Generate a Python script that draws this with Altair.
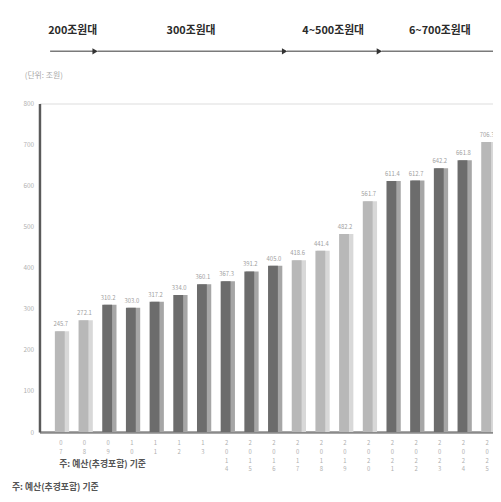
import altair as alt
import pandas as pd

FONT = "Noto Sans CJK KR"

# ---- data ----
years = ["07", "08", "09", "10", "11", "12", "13",
         "2014", "2015", "2016", "2017", "2018", "2019", "2020",
         "2021", "2022", "2023", "2024", "2025"]
values = [245.7, 272.1, 310.2, 303.0, 317.2, 334.0, 360.1, 367.3, 391.2, 405.0,
          418.6, 441.4, 482.2, 561.7, 611.4, 612.7, 642.2, 661.8, 706.3]
tones = ["light", "light", "dark", "dark", "dark", "dark", "dark", "dark", "dark", "dark",
         "light", "light", "light", "light", "dark", "dark", "dark", "dark", "light"]

group_names = ["200조원대", "300조원대", "4~500조원대", "6~700조원대"]
group_first = [0, 2, 10, 14]
group_last = [1, 9, 13, 18]

unit_text = "(단위: 조원)"
note_text = "주: 예산(추경포함) 기준"

df = pd.DataFrame({"idx": list(range(len(years))), "year": years,
                   "value": values, "tone": tones})
groups = pd.DataFrame({"name": group_names, "first": group_first, "last": group_last})

xscale = alt.Scale(domain=[-0.691, 18.04], nice=False, zero=False)
yscale = alt.Scale(domain=[0, 800], nice=False)

x_enc = alt.X("idx:Q", scale=xscale, title=None,
              axis=alt.Axis(values=list(range(len(years))), labels=False,
                            ticks=False, grid=False, domainColor="#8a8a8a",
                            domainWidth=2.5))
y_enc = alt.Y("value:Q", scale=yscale, title=None,
              axis=alt.Axis(values=list(range(0, 801, 100)), labelFont=FONT,
                            labelFontSize=6.5, labelColor="#b0b0b0", ticks=False,
                            grid=False, domainColor="#5a5a5a", domainWidth=2.5,
                            labelPadding=6))

base = alt.Chart(df)
is_dark = "datum.tone == 'dark'"

shadow = base.mark_bar(width=13, xOffset=2).encode(
    x=x_enc, y=y_enc,
    color=alt.condition(is_dark, alt.value("#a6a6a6"), alt.value("#d8d8d8")))

front = base.mark_bar(width=10, xOffset=-1).encode(
    x="idx:Q", y="value:Q",
    color=alt.condition(is_dark, alt.value("#6c6c6c"), alt.value("#b8b8b8")))

bar_labels = base.mark_text(dy=-7, fontSize=6, color="#a0a0a0", font=FONT).encode(
    x="idx:Q", y="value:Q", text=alt.Text("value:Q", format=".1f"))

# vertical (stacked-character) year labels, one text per character
x_labels = base.transform_calculate(
    chars="split(datum.year, '')"
).transform_flatten(["chars"]).transform_window(
    k="row_number()", groupby=["idx"]
).mark_text(baseline="top", fontSize=6, color="#b0b0b0", font=FONT).encode(
    x="idx:Q", y=alt.value(342),
    yOffset=alt.YOffset("k:Q", scale=alt.Scale(domain=[1, 5], range=[0, 36])),
    text="chars:N")

gb = alt.Chart(groups).transform_calculate(
    x1="datum.first - 0.45", x2="datum.last + 0.45", xm="(datum.first + datum.last) / 2")

arrows = gb.mark_rule(color="#7a7a7a", strokeWidth=1.5).encode(
    x=alt.X("x1:Q", scale=xscale), x2="x2:Q", y=alt.value(-53))
heads = gb.mark_point(shape="triangle-right", filled=True, color="#333333", size=40,
                      opacity=1).encode(
    x=alt.X("x2:Q", scale=xscale), y=alt.value(-53))
head_text = gb.mark_text(fontSize=11, fontWeight="bold", color="#2a2a2a", font=FONT).encode(
    x=alt.X("xm:Q", scale=xscale), y=alt.value(-74), text="name:N")

unit = alt.Chart(pd.DataFrame({"t": [unit_text]})).mark_text(
    align="left", fontSize=8, color="#a8a8a8", font=FONT).encode(
    x=alt.value(-15), y=alt.value(-28), text="t:N")

note1 = alt.Chart(pd.DataFrame({"t": [note_text]})).mark_text(
    align="left", fontSize=9, fontWeight="bold", color="#555555", font=FONT).encode(
    x=alt.value(20), y=alt.value(366), text="t:N")
note2 = alt.Chart(pd.DataFrame({"t": [note_text]})).mark_text(
    align="left", fontSize=9, fontWeight="bold", color="#555555", font=FONT).encode(
    x=alt.value(-28), y=alt.value(390), text="t:N")

chart = alt.layer(shadow, front, bar_labels, x_labels, arrows, heads, head_text,
                  unit, note1, note2).properties(
    width=461, height=334,
    autosize=alt.AutoSizeParams(type="none"),
    padding={"left": 32, "top": 93, "right": 0, "bottom": 67},
).configure_view(stroke=None).configure(font=FONT)

chart.save("out.html", embed_options={"renderer": "svg", "actions": False})
